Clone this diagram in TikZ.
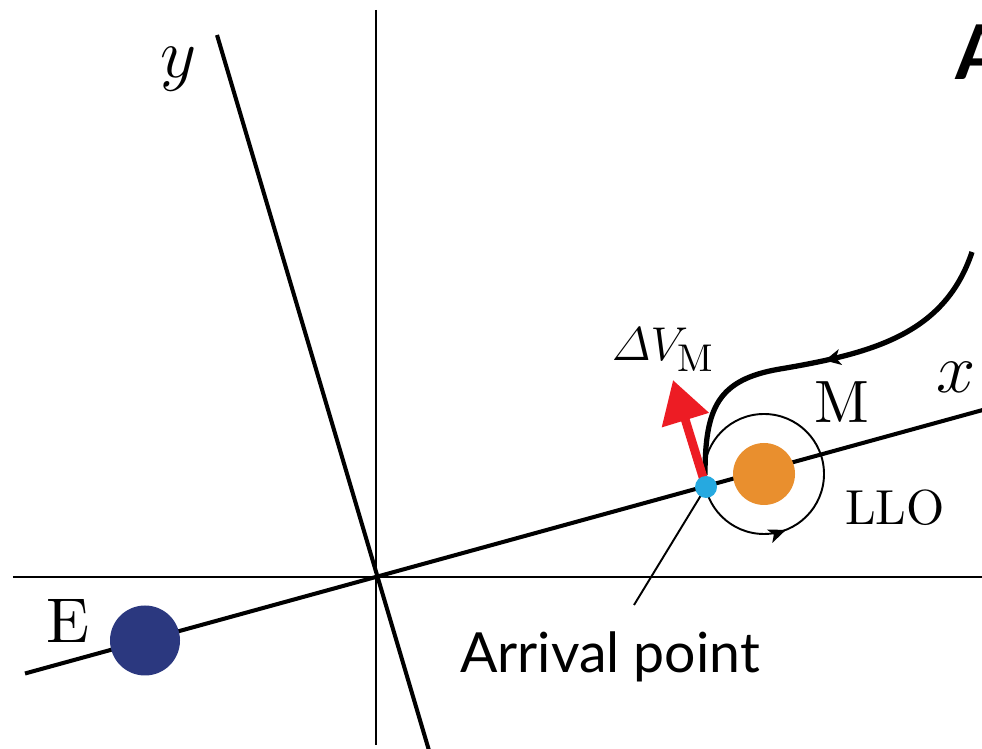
\RequirePackage{fix-cm}
\documentclass[tikz,border=0pt]{standalone}
\usepackage{amsmath}
\usepackage{fontspec}
\setmainfont{lmroman10-regular.otf}[BoldFont=lmroman10-bold.otf,ItalicFont=lmroman10-italic.otf]
\newfontfamily\lato{Lato}
\usepackage{tikz}
\usetikzlibrary{arrows.meta,positioning,calc,decorations.markings}
\definecolor{earthblue}{RGB}{43,56,127}
\definecolor{moonorange}{RGB}{233,143,46}
\definecolor{arrivalblue}{RGB}{38,169,224}
\definecolor{dvred}{RGB}{237,28,36}
\DeclareMathSizes{27}{27}{22}{16}

\begin{document}
\begin{tikzpicture}[
  ax/.style={line width=2.3pt},
  thinax/.style={line width=1.1pt},
  body/.style={circle,draw=none,inner sep=0pt},
  lbl/.style={inner sep=0pt,anchor=base},
  traj/.style={line width=3pt,postaction={decorate},
    decoration={markings,mark=at position 0.5 with {\arrow{Stealth[length=9pt,width=9pt,inset=2.5pt]}}}},
  llo/.style={line width=1.1pt,postaction={decorate},
    decoration={markings,mark=at position 0.81 with {\arrow{Stealth[length=10pt,width=8pt,inset=2.5pt]}}}},
  dv/.style={dvred,line width=5pt,-{Triangle[length=0.84cm,width=0.94cm]}}]
  \useasboundingbox (0,0) rectangle (19.64,14.96);
  % inertial frame
  \coordinate (O) at (7.52,3.42);
  \coordinate (hl) at (0.26,3.42);
  \coordinate (hr) at (19.8,3.42);
  \coordinate (vt) at (7.52,14.76);
  \coordinate (vb) at (7.52,0.06);
  \draw[thinax] (hl) -- (hr);
  \draw[thinax] (vt) -- (vb);
  % rotating frame
  \coordinate (xl) at (0.50,1.49);
  \coordinate (xr) at (19.8,6.80);
  \coordinate (yt) at (4.34,14.26);
  \coordinate (yb) at (8.58,-0.05);
  \draw[ax] (xl) -- (xr);
  \draw[ax] (yt) -- (yb);
  \node[lbl,font={\fontsize{40}{48}\selectfont}] (ylbl) at (3.58,13.40) {$y$};
  \node[lbl,font={\fontsize{40}{48}\selectfont}] (xlbl) at (19.12,7.10) {$x$};
  % Earth and Moon
  \node[body,fill=earthblue,minimum size=1.40cm] (E) at (2.90,2.15) {};
  \node[lbl,font={\fontsize{36}{42}\selectfont}] (Elbl) at (1.36,2.10) {E};
  \node[body,fill=moonorange,minimum size=1.24cm] (M) at (15.28,5.48) {};
  \node[lbl,font={\fontsize{34}{40}\selectfont}] (Mlbl) at (16.84,6.50) {M};
  \draw[llo] (M.center) circle[radius=1.2];
  \node[lbl,font={\fontsize{28}{34}\selectfont}] (llolbl) at (17.90,4.46) {LLO};
  % transfer trajectory
  \coordinate (trajstart) at (19.44,9.92);
  \coordinate (trajend) at (14.10,5.46);
  \draw[traj] (trajstart) .. controls (18.9,8.3) and (17.5,7.9) .. (15.6,7.58)
    .. controls (14.35,7.37) and (14.10,6.8) .. (trajend);
  % arrival
  \coordinate (arrpt) at (14.12,5.22);
  \coordinate (dvtip) at (13.46,7.36);
  \draw[dv] (arrpt) -- (dvtip);
  \node[lbl,font={\fontsize{27}{32}\selectfont}] (dvlbl) at (13.26,7.74) {$\varDelta V_{\mathrm{M}}$};
  \coordinate (lead) at (12.68,2.86);
  \draw[thinax] (arrpt) -- (lead);
  \node[body,fill=arrivalblue,minimum size=0.44cm] (arr) at (arrpt) {};
  \node[lbl,font={\lato\fontsize{31.5}{38}\selectfont}] (arrlbl) at (12.20,1.50) {Arrival point};
  \node[lbl,anchor=base west,font={\lato\bfseries\fontsize{43}{50}\selectfont}] (panel) at (19.10,13.36) {A};
\end{tikzpicture}
\end{document}
